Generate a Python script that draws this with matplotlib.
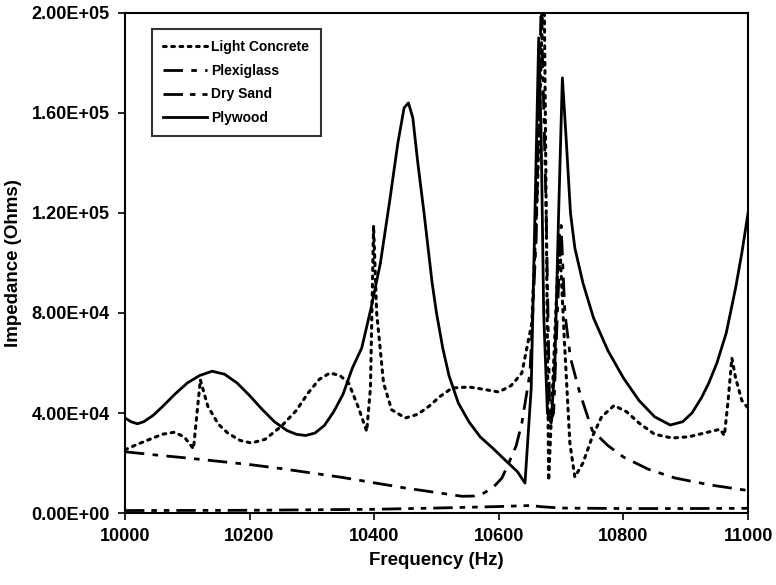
import numpy as np
import matplotlib
matplotlib.use("Agg")
import matplotlib.pyplot as plt
from matplotlib.ticker import FuncFormatter

plt.rcParams['font.family'] = ['Liberation Sans', 'DejaVu Sans']
plt.rcParams['font.weight'] = 'bold'

# Light Concrete
conc_f = [10000, 10020, 10040, 10060, 10079, 10095, 10110, 10121, 10133, 10150,
          10165, 10185, 10203, 10225, 10251, 10275, 10294, 10312, 10329, 10345,
          10359, 10375, 10388, 10394, 10399, 10404, 10415, 10428, 10450, 10470,
          10488, 10505, 10525, 10552, 10575, 10600, 10620, 10637, 10653, 10662,
          10670, 10673, 10680, 10688, 10697, 10705, 10714, 10722, 10735, 10750,
          10765, 10785, 10805, 10825, 10850, 10878, 10905, 10930, 10955, 10962,
          10968, 10974, 10980, 10990, 11000]
conc_z = [25300, 27500, 29500, 31500, 32300, 30500, 25700, 53300, 42700, 35500,
          32000, 29000, 28000, 29500, 34700, 41000, 48000, 53500, 56000, 55000,
          52000, 42000, 32700, 50000, 115000, 80000, 52000, 41300, 38000, 39500,
          42700, 46500, 50000, 50400, 49500, 48400, 51000, 56000, 76000, 130000,
          200000, 205000, 13000, 60000, 112000, 70000, 28000, 14400, 20000, 30500,
          38500, 43000, 40500, 36000, 31500, 30000, 30500, 32000, 33500, 31000,
          45000, 62000, 54000, 45000, 42000]

# Plexiglass
plex_f = [10000, 10050, 10100, 10150, 10203, 10250, 10300, 10350, 10402, 10450,
          10500, 10541, 10560, 10573, 10590, 10605, 10616, 10628, 10637, 10650,
          10660, 10668, 10676, 10682, 10688, 10694, 10700, 10706, 10715, 10730,
          10750, 10775, 10800, 10840, 10883, 10940, 11000]
plex_z = [24500, 23200, 22000, 20700, 19300, 17800, 16000, 14200, 12000, 10000,
          8200, 6700, 6800, 7600, 10000, 14000, 20000, 27000, 36000, 56000,
          110000, 205000, 120000, 36000, 40000, 80000, 115000, 80000, 62000, 48000,
          33000, 27000, 22400, 17500, 14000, 11200, 9000]

# Dry Sand
sand_f = [10000, 10100, 10200, 10300, 10400, 10500, 10600, 10650, 10670, 10700,
          10800, 10900, 11000]
sand_z = [1000, 1050, 1100, 1300, 1500, 2000, 2600, 3000, 2500, 2000,
          1800, 1800, 1900]

# Plywood
ply_f = [10000, 10010, 10020, 10030, 10045, 10060, 10080, 10100, 10120, 10140,
         10160, 10180, 10200, 10220, 10240, 10260, 10275, 10290, 10305, 10320,
         10335, 10350, 10365, 10380, 10395, 10410, 10425, 10438, 10448, 10455,
         10462, 10470, 10480, 10493, 10500, 10510, 10520, 10535, 10552, 10570,
         10590, 10613, 10630, 10642, 10652, 10658, 10664, 10668, 10672, 10678,
         10684, 10690, 10696, 10702, 10708, 10715, 10722, 10735, 10752, 10775,
         10800, 10825, 10850, 10875, 10895, 10910, 10925, 10937, 10950, 10965,
         10980, 10990, 11000]
ply_z = [38000, 36500, 35700, 36500, 39000, 42500, 47500, 52000, 55000, 56700,
         55500, 52000, 47000, 41500, 36500, 33000, 31500, 31000, 32000, 35000,
         40500, 47500, 58000, 66000, 82000, 100000, 125000, 148000, 162000, 164000,
         158000, 140000, 120000, 92000, 80000, 66000, 55000, 44000, 36500, 30500,
         26000, 20500, 16500, 12000, 50000, 120000, 190000, 150000, 80000, 40000,
         36000, 60000, 120000, 174000, 150000, 120000, 106000, 92000, 78000, 65000,
         54000, 45000, 38500, 35200, 36500, 40000, 46000, 52000, 60000, 72000,
         90000, 104000, 120000]

fig = plt.figure(figsize=(7.76, 5.85), dpi=100)
ax = fig.add_axes([0.161, 0.123, 0.803, 0.855])

ax.plot(conc_f, conc_z, color='black', lw=2.2, linestyle=(0, (0.9, 1.8)),
        dash_capstyle='round', label='Light Concrete')
ax.plot(plex_f, plex_z, color='black', lw=2, linestyle=(0, (7, 3, 2, 3)),
        label='Plexiglass')
ax.plot(sand_f, sand_z, color='black', lw=2, linestyle=(0, (7, 2.5, 2, 2.5, 2, 2.5)),
        label='Dry Sand')
ax.plot(ply_f, ply_z, color='black', lw=2, linestyle='-', label='Plywood')

ax.set_xlim(10000, 11000)
ax.set_ylim(0, 200000)
ax.set_xticks([10000, 10200, 10400, 10600, 10800, 11000])
ax.set_yticks([0, 40000, 80000, 120000, 160000, 200000])
ax.yaxis.set_major_formatter(FuncFormatter(lambda v, p: '%.2E' % v))

for s in ax.spines.values():
    s.set_linewidth(1.5)
ax.tick_params(direction='out', length=5, width=1.2, labelsize=13, pad=6)
for lab in ax.get_xticklabels() + ax.get_yticklabels():
    lab.set_fontweight('bold')

ax.set_xlabel('Frequency (Hz)', fontsize=13.5, fontweight='bold', labelpad=5)
ax.set_ylabel('Impedance (Ohms)', fontsize=13.5, fontweight='bold', labelpad=7)

leg = ax.legend(loc='upper left', bbox_to_anchor=(0.043, 0.968), fontsize=10,
                frameon=True, fancybox=False, borderpad=0.8, labelspacing=0.7,
                handlelength=3.2, handletextpad=0.3, borderaxespad=0)
leg.get_frame().set_edgecolor('black')
leg.get_frame().set_linewidth(1.5)
for t in leg.get_texts():
    t.set_fontweight('bold')

fig.savefig('out.png', dpi=100)
